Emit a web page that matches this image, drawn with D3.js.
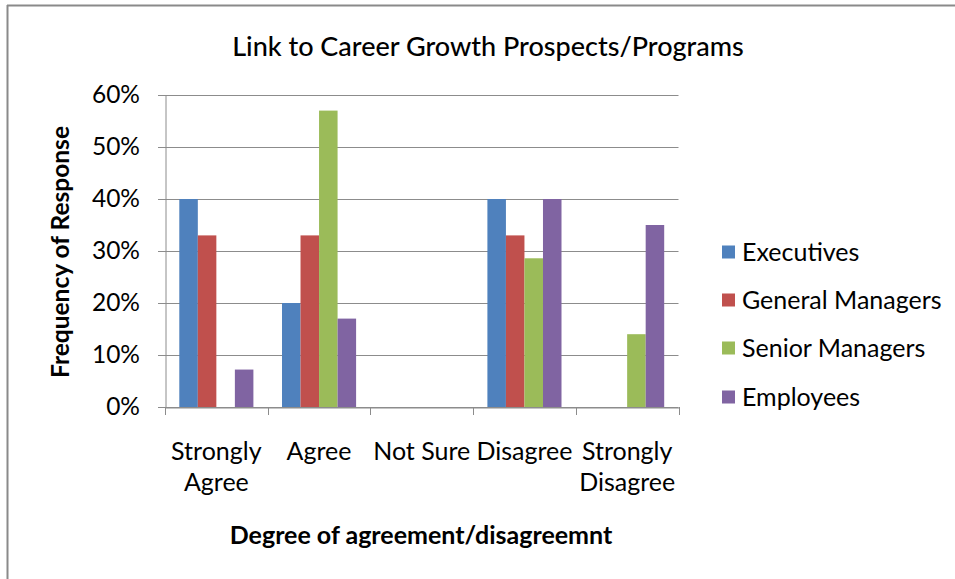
<!DOCTYPE html>
<html><head><meta charset="utf-8">
<script src="https://cdn.jsdelivr.net/npm/d3@7/dist/d3.min.js"></script>
<style>body{margin:0;background:#fff}svg{display:block}text{font-family:Lato,"Open Sans",sans-serif;fill:#000}</style>
</head><body>
<script>
const categories = [["Strongly","Agree"],["Agree"],["Not Sure"],["Disagree"],["Strongly","Disagree"]];
const seriesNames = ["Executives","General Managers","Senior Managers","Employees"];
const executives = [40, 20, 0, 40, 0];
const generalManagers = [33, 33, 0, 33, 0];
const seniorManagers = [0, 57, 0, 28.6, 14];
const employees = [7.2, 17, 0, 40, 35];
const yTicks = [0, 10, 20, 30, 40, 50, 60];
const colors = ["#4F81BD","#C0504D","#9BBB59","#8064A2"];
const allSeries = [executives, generalManagers, seniorManagers, employees];

(function(){
const W = 955, H = 579;
const svg = d3.select("body").append("svg").attr("width", W).attr("height", H);

// outer border (top and left only visible)
svg.append("line").attr("x1",7).attr("x2",W).attr("y1",5.5).attr("y2",5.5).attr("stroke","#8a8a8a").attr("stroke-width",2);
svg.append("line").attr("x1",7.5).attr("x2",7.5).attr("y1",5).attr("y2",H).attr("stroke","#8a8a8a").attr("stroke-width",2);

const pL = 165, pR = 678.5, pT = 95, pB = 407;
const x0 = d3.scaleBand().domain(d3.range(categories.length)).range([pL, pR]).padding(0);
const gap = 14.3;
const x1 = d3.scaleBand().domain(d3.range(seriesNames.length)).range([gap, x0.bandwidth() - gap]).padding(0);
const y = d3.scaleLinear().domain([0, 60]).range([pB, pT]);

// gridlines
svg.append("g").selectAll("line").data(yTicks).join("line")
  .attr("x1", pL - 7).attr("x2", pR).attr("y1", d => Math.round(y(d))+0.5).attr("y2", d => Math.round(y(d))+0.5)
  .attr("stroke", "#8c8c8c").attr("stroke-width", 1);

// y axis
const yAxis = d3.axisLeft(y).tickValues(yTicks).tickFormat(d => d + "%").tickSize(0).tickPadding(0);
const yg = svg.append("g").attr("transform", `translate(${pL+0.5},0)`).call(yAxis);
yg.select(".domain").attr("stroke", "#8c8c8c");
yg.selectAll("text").attr("x", 139.5 - pL).attr("font-size", 24.5).attr("fill","#000").style("font-family","Lato");

// bars
const groups = svg.append("g").selectAll("g").data(categories).join("g")
  .attr("transform", (d,i) => `translate(${x0(i)},0)`);
groups.selectAll("rect").data((d,i) => allSeries.map((s,j) => ({v: s[i], j})))
  .join("rect")
  .attr("x", d => x1(d.j)).attr("width", x1.bandwidth())
  .attr("y", d => y(d.v)).attr("height", d => y(0) - y(d.v))
  .attr("fill", d => colors[d.j]);

// x axis
const xAxis = d3.axisBottom(x0).tickSize(0).tickFormat("");
const xg = svg.append("g").attr("transform", `translate(0,${pB+0.5})`).call(xAxis);
xg.select(".domain").attr("stroke", "#8c8c8c");
const boundaries = d3.range(categories.length + 1).map(i => i < categories.length ? x0(i) : x0(categories.length-1) + x0.bandwidth());
svg.append("g").selectAll("line").data(boundaries).join("line")
  .attr("x1", d => Math.round(d)+0.5).attr("x2", d => Math.round(d)+0.5)
  .attr("y1", pB).attr("y2", pB + 8).attr("stroke", "#8c8c8c");

// category labels
const lab = svg.append("g").selectAll("text").data(categories).join("text")
  .attr("text-anchor", "middle").attr("font-size", 25)
  .attr("transform", (d,i) => `translate(${x0(i) + x0.bandwidth()/2},0)`);
lab.selectAll("tspan").data(d => d).join("tspan")
  .attr("x", 0).attr("y", (d,i) => 460 + i*31).text(d => d);

// title
svg.append("text").attr("x", 488).attr("y", 56).attr("text-anchor","middle")
  .attr("font-size", 27).attr("font-weight", 500).text("Link to Career Growth Prospects/Programs");

// axis titles
svg.append("text").attr("x", 421).attr("y", 544).attr("text-anchor","middle")
  .attr("font-size", 25).attr("font-weight", 700).text("Degree of agreement/disagreemnt");
svg.append("text").attr("transform", "translate(69,252) rotate(-90)").attr("text-anchor","middle")
  .attr("font-size", 24.5).attr("font-weight", 700).text("Frequency of Response");

// legend
const legY = [252, 300, 348, 397];
const leg = svg.append("g").selectAll("g").data(seriesNames).join("g")
  .attr("transform", (d,i) => `translate(722,${legY[i]})`);
leg.append("rect").attr("x", 0).attr("y", -6.5).attr("width", 13).attr("height", 13).attr("fill", (d,i) => colors[i]);
leg.append("text").attr("x", 20).attr("y", 8.5).attr("font-size", 25).text(d => d);
})();
</script>
</body></html>
